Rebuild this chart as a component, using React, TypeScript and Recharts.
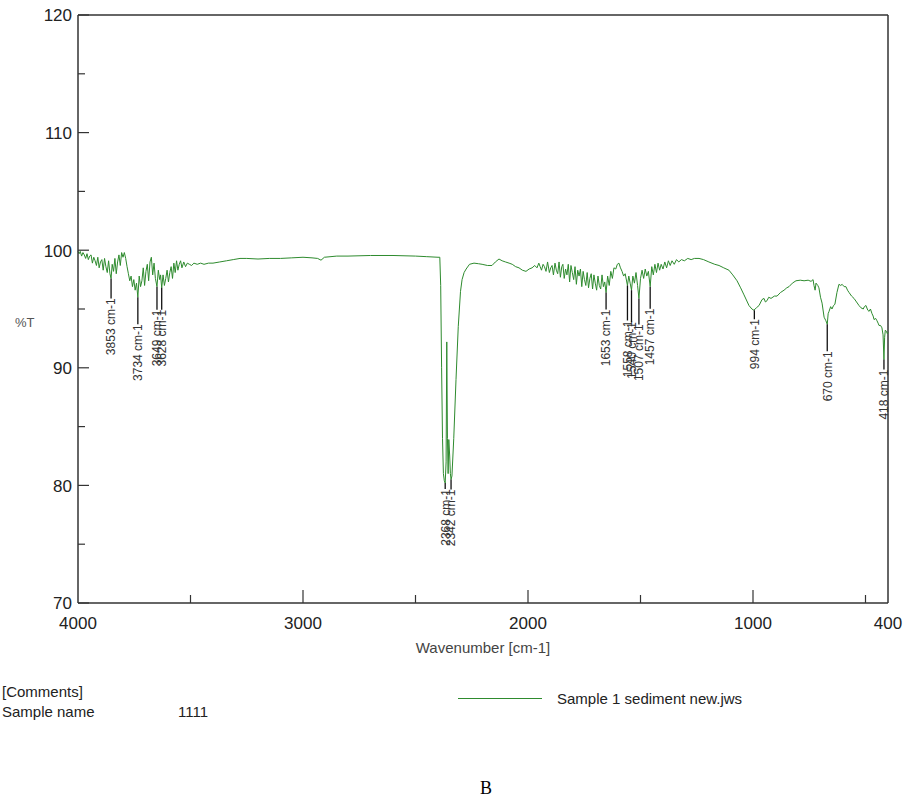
import { ComposedChart, Line, Scatter, XAxis, YAxis, ReferenceLine, Legend } from 'recharts'

// IR spectrum, sample 1 sediment (wavenumber cm-1, %T)
const highWave: [number, number][] = [
  [4000, 99.9], [3995, 99.7], [3990, 99.9], [3984, 99.5], [3978, 99.8], [3972, 99.6], [3966, 99.3],
  [3960, 99.7], [3954, 99.2], [3948, 99.5], [3942, 99.6], [3936, 98.9], [3930, 99.4], [3924, 99.1],
  [3918, 98.7], [3912, 99.4], [3906, 98.5], [3900, 99.0], [3894, 99.2], [3888, 98.3], [3882, 99.3],
  [3876, 98.6], [3870, 98.1], [3864, 99.1], [3858, 98.0], [3853, 97.6], [3848, 98.8], [3842, 98.2],
  [3836, 99.3], [3830, 98.0], [3824, 99.0], [3818, 99.6], [3812, 98.7], [3806, 99.8], [3800, 99.4],
  [3794, 99.8], [3788, 99.3], [3782, 98.6], [3776, 98.0], [3770, 97.4], [3764, 97.8], [3758, 96.9],
  [3752, 97.5], [3746, 96.6], [3740, 97.2], [3734, 96.0], [3728, 97.8], [3722, 96.9], [3716, 97.4],
  [3710, 98.5], [3704, 97.0], [3698, 98.2], [3692, 98.8], [3686, 97.4], [3680, 99.0], [3674, 99.4],
  [3668, 97.9], [3662, 98.9], [3656, 97.6], [3649, 96.9], [3643, 98.3], [3637, 97.5], [3633, 97.9],
  [3628, 96.8], [3622, 97.9], [3616, 97.0], [3610, 97.6], [3604, 98.3], [3598, 97.3], [3592, 98.1],
  [3586, 98.6], [3580, 97.6], [3574, 98.9], [3568, 98.1], [3562, 99.1], [3556, 98.3], [3550, 98.8],
  [3544, 99.1], [3538, 98.5], [3530, 99.0], [3522, 98.6], [3514, 98.9], [3505, 98.8],
]

const plateau: [number, number][] = [
  [3495, 98.7], [3485, 98.9], [3470, 98.8], [3455, 98.9], [3440, 98.8], [3420, 98.9], [3400, 98.9],
  [3370, 99.0], [3340, 99.1], [3310, 99.2], [3280, 99.3], [3250, 99.3], [3200, 99.25], [3150, 99.3],
  [3100, 99.3], [3050, 99.35], [3000, 99.4], [2960, 99.35], [2935, 99.3], [2920, 99.15], [2905, 99.4],
  [2850, 99.5], [2800, 99.5], [2700, 99.55], [2600, 99.55], [2500, 99.5], [2450, 99.45], [2400, 99.4],
]

const co2Band: [number, number][] = [
  [2392, 99.4], [2388, 97.0], [2384, 90.0], [2380, 84.0], [2376, 81.0], [2372, 80.4], [2368, 80.2],
  [2364, 82.0], [2361, 92.2], [2358, 84.0], [2355, 81.0], [2352, 83.9], [2348, 82.5], [2345, 81.0],
  [2342, 80.5], [2338, 80.8], [2330, 84.0], [2320, 89.0], [2310, 93.5], [2300, 96.5], [2293, 97.5],
  [2284, 98.1], [2275, 98.4], [2260, 98.8], [2240, 98.9], [2220, 98.85], [2204, 98.8],
]

const midRange: [number, number][] = [
  [2180, 98.7], [2160, 98.7], [2145, 99.0], [2129, 99.25], [2115, 99.1], [2100, 99.0], [2084, 98.9],
  [2070, 98.8], [2055, 98.6], [2040, 98.5], [2025, 98.3], [2009, 98.2], [1995, 98.4], [1982, 98.5],
  [1970, 98.7], [1960, 98.5], [1952, 98.9], [1946, 98.6], [1940, 98.3], [1933, 98.8], [1927, 98.6],
  [1920, 98.2], [1913, 99.0], [1905, 98.1], [1899, 98.5], [1893, 98.7], [1887, 97.9], [1880, 98.9],
  [1874, 98.3], [1868, 98.0], [1862, 99.0], [1856, 97.7], [1850, 98.6], [1845, 98.8], [1839, 97.6],
  [1833, 98.4], [1827, 97.9], [1821, 98.8], [1815, 97.3], [1809, 98.7], [1803, 98.1], [1797, 97.5],
  [1791, 98.6], [1785, 97.1], [1779, 98.3], [1773, 97.8], [1767, 98.4], [1761, 96.9], [1755, 98.2],
  [1749, 97.5], [1743, 97.0], [1737, 98.1], [1731, 96.8], [1725, 97.6], [1719, 98.0], [1713, 96.7],
  [1707, 97.9], [1701, 97.2], [1695, 96.6], [1689, 97.8], [1683, 97.0], [1677, 96.7], [1671, 97.9],
  [1665, 96.9], [1659, 97.3], [1653, 96.4], [1646, 97.8], [1639, 97.0], [1632, 98.2], [1625, 97.6],
  [1618, 98.5], [1610, 98.4], [1603, 98.8], [1596, 98.9], [1589, 98.5], [1582, 98.2], [1575, 97.8],
  [1568, 98.0], [1558, 97.0], [1552, 97.8], [1546, 97.2], [1540, 96.6], [1534, 97.8], [1527, 97.2],
  [1520, 98.1], [1513, 97.0], [1507, 95.9], [1500, 97.6], [1493, 98.3], [1486, 97.6], [1479, 98.4],
  [1472, 97.8], [1465, 98.2], [1457, 96.9], [1450, 98.6], [1443, 97.9], [1436, 98.8], [1429, 98.1],
  [1422, 98.9], [1415, 98.3], [1408, 98.8], [1400, 98.4], [1392, 99.0], [1384, 98.5], [1376, 99.1],
  [1368, 98.7], [1360, 99.1], [1350, 98.8], [1340, 99.2], [1330, 99.0], [1318, 99.2], [1305, 99.1],
  [1290, 99.3], [1275, 99.2], [1260, 99.3], [1240, 99.3], [1220, 99.2],
]

const fingerprint: [number, number][] = [
  [1196, 99.0], [1170, 98.8], [1151, 98.7], [1130, 98.5], [1107, 98.3], [1090, 97.9], [1071, 97.4],
  [1055, 96.8], [1040, 96.2], [1018, 95.3], [1005, 95.0], [996, 94.9], [985, 95.1], [973, 95.3],
  [960, 95.8], [951, 95.9], [945, 95.6], [938, 95.7], [930, 96.0], [920, 95.9], [905, 96.1],
  [893, 96.1], [878, 96.4], [862, 96.6], [850, 96.8], [840, 96.9], [825, 97.2], [809, 97.4],
  [790, 97.45], [773, 97.4], [755, 97.45], [742, 97.35], [733, 97.5], [729, 97.0], [724, 96.6],
  [720, 97.2], [712, 97.0], [707, 96.8], [700, 96.0], [693, 95.5], [684, 94.3], [676, 94.0],
  [670, 93.7], [666, 94.6], [662, 94.8], [655, 95.2], [649, 95.0], [642, 95.3], [636, 95.4],
  [627, 96.4], [618, 97.1], [610, 97.0], [604, 97.1], [595, 96.9], [587, 96.9], [580, 96.6],
  [573, 96.4], [562, 96.1], [551, 95.9], [540, 95.6], [529, 95.3], [520, 95.1], [510, 95.0],
  [505, 95.2], [498, 95.3], [490, 94.9], [484, 94.8], [478, 95.0], [471, 94.6], [466, 94.4],
  [462, 94.1], [455, 94.2], [449, 94.0], [444, 93.8], [440, 93.6], [433, 93.6], [427, 93.4],
  [422, 92.8], [418, 90.7], [415, 92.6], [412, 93.2], [407, 93.1], [403, 92.9], [400, 93.0],
]

const peakWavenumbers = [3853, 3734, 3649, 3628, 2368, 2342, 1653, 1558, 1540, 1507, 1457, 994, 670, 418]
const peakTransmittance = [97.6, 96.0, 96.9, 96.8, 80.2, 80.5, 96.4, 97.0, 96.6, 95.9, 96.9, 94.9, 93.7, 90.7]

const xTicks = [4000, 3500, 3000, 2500, 2000, 1500, 1000, 500, 400]
const yTicks = [70, 75, 80, 85, 90, 95, 100, 105, 110, 115, 120]

const seriesName = 'Sample 1 sediment new.jws'

// how far (px) each peak marker drops before its label starts
const labelDrop: Record<number, number> = {
  3853: 20, 3734: 27, 3649: 23, 3628: 22, 2368: 6, 2342: 10, 1653: 17,
  1558: 35, 1540: 32, 1507: 26, 1457: 22, 994: 9, 670: 27, 418: 10,
}

const spectrum = [...highWave, ...plateau, ...co2Band, ...midRange, ...fingerprint].map(([wn, t]) => ({ wn, t }))
const peaks = peakWavenumbers.map((wn, i) => ({ wn, t: peakTransmittance[i] }))

const GREEN = '#2e8b2e'
const AXIS = '#333'

function YTick({ x, y, payload }: any) {
  const v = payload.value
  const major = v % 10 === 0
  return (
    <g>
      <line x1={x + 6} x2={x + 6 + (major ? 11 : 7)} y1={y} y2={y} stroke={AXIS} strokeWidth={1.2} />
      {major && (
        <text x={x} y={y} dy="0.38em" textAnchor="end" fontSize={17} fill="#222">{v}</text>
      )}
    </g>
  )
}

function XTick({ x, y, payload }: any) {
  const v = payload.value
  const major = v % 1000 === 0
  const labelled = major || v === 400
  const showLine = v !== 400 && v !== 4000
  return (
    <g>
      {showLine && <line x1={x} x2={x} y1={y} y2={y - (major ? 13 : 8)} stroke={AXIS} strokeWidth={1.2} />}
      {labelled && (
        <text x={x} y={y + 26} textAnchor="middle" fontSize={17} fill="#222">{v}</text>
      )}
    </g>
  )
}

function PeakMark({ cx, cy, payload }: any) {
  const y0 = cy + (labelDrop[payload.wn] ?? 20)
  return (
    <g>
      <line x1={cx} x2={cx} y1={cy} y2={y0} stroke="#111" strokeWidth={1.3} />
      <text
        transform={`translate(${cx + 4.3},${y0}) rotate(-90)`}
        textAnchor="end"
        fontSize={12}
        fill="#333"
      >
        {payload.wn} cm-1
      </text>
    </g>
  )
}

function LegendBox() {
  return (
    <div style={{ display: 'flex', alignItems: 'center', fontSize: 15, color: '#222', whiteSpace: 'nowrap' }}>
      <span style={{ display: 'inline-block', width: 84, height: 0, borderTop: `1.5px solid ${GREEN}`, marginRight: 15 }} />
      {seriesName}
    </div>
  )
}

export default function App() {
  return (
    <div style={{ position: 'absolute', left: 0, top: 0, width: 909, height: 806, overflow: 'hidden', background: '#fff', fontFamily: 'Arial, "Liberation Sans", sans-serif' }}>
      <ComposedChart width={909} height={806} data={spectrum} margin={{ top: 15, right: 21, left: 0, bottom: 153 }}>
        <XAxis
          dataKey="wn"
          type="number"
          domain={[400, 4000]}
          reversed
          ticks={xTicks}
          interval={0}
          tick={<XTick />}
          tickSize={0}
          tickMargin={0}
          tickLine={false}
          height={50}
          axisLine={{ stroke: AXIS, strokeWidth: 1.5 }}
          label={{ value: 'Wavenumber [cm-1]', position: 'insideBottom', offset: 0, fontSize: 15, fill: '#444' }}
        />
        <YAxis
          type="number"
          domain={[70, 120]}
          ticks={yTicks}
          interval={0}
          width={78}
          tick={<YTick />}
          tickSize={0}
          tickMargin={6}
          tickLine={false}
          axisLine={{ stroke: AXIS, strokeWidth: 1.5 }}
          label={{
            content: ({ viewBox }: any) => (
              <text x={viewBox.x + 15} y={viewBox.y + viewBox.height / 2 + 18} fontSize={13} fill="#555">%T</text>
            ),
          }}
        />
        <ReferenceLine y={120} stroke={AXIS} strokeWidth={1.5} />
        <ReferenceLine x={400} stroke={AXIS} strokeWidth={1.5} />
        <Line
          dataKey="t"
          name={seriesName}
          type="linear"
          stroke={GREEN}
          strokeWidth={1}
          dot={false}
          isAnimationActive={false}
        />
        <Scatter data={peaks} dataKey="t" shape={<PeakMark />} legendType="none" isAnimationActive={false} />
        <Legend
          layout="vertical"
          align="center"
          verticalAlign="middle"
          content={() => <LegendBox />}
          wrapperStyle={{ left: 458, top: 690, width: 360 }}
        />
      </ComposedChart>

      <div style={{ position: 'absolute', left: 2, top: 682, width: 300, fontSize: 15, color: '#222', lineHeight: '20px' }}>
        <div>[Comments]</div>
        <div style={{ position: 'relative', whiteSpace: 'pre' }}>
          Sample name<span style={{ position: 'absolute', left: 176 }}>1111</span>
        </div>
      </div>

      <div style={{ position: 'absolute', left: 480, top: 778, fontFamily: 'serif', fontSize: 18, color: '#000' }}>B</div>
    </div>
  )
}
